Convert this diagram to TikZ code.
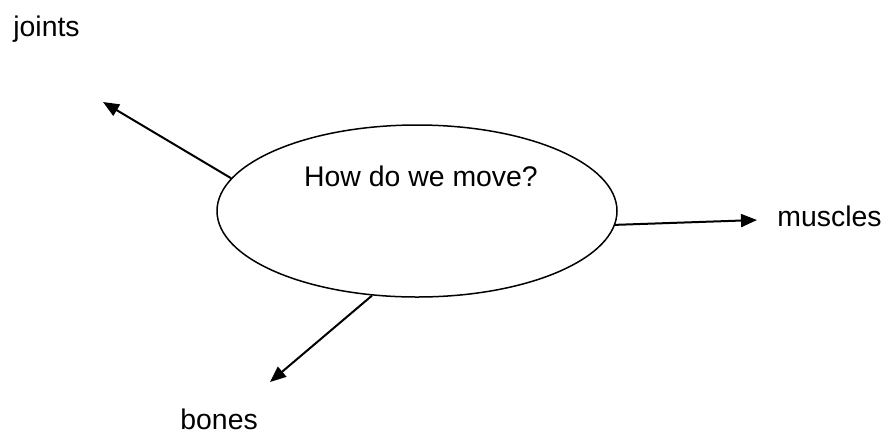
\documentclass[tikz,border=0pt]{standalone}
\usepackage{fontspec}
\setmainfont{Liberation Sans}
\usetikzlibrary{positioning,arrows.meta,shapes.geometric}

\begin{document}
\begin{tikzpicture}[x=0.5pt,y=-0.5pt,
    every node/.style={font=\fontsize{14.2}{17}\selectfont, inner sep=0pt},
    topic/.style={ellipse, draw, line width=0.75pt, minimum width=200pt, minimum height=86pt},
    link/.style={line width=1pt, -{Triangle[length=8pt,width=6.5pt]}}]
			\useasboundingbox (0,0) rectangle (887,435);

			\node (move) [topic] at (417,211) {};
			\node (q) [anchor=base] at (421,186) {How do we move?};

			\node (joints)  [anchor=base west] at (13,36)   {joints};
			\node (muscles) [anchor=base west] at (777,226) {muscles};
			\node (bones)   [anchor=base west] at (180,429) {bones};

			\coordinate (jtip) at (103,102);
			\coordinate (mtip) at (757,220);
			\coordinate (btip) at (270,382);

			\draw [link] (move.170.5) -- (jtip);
			\draw [link] (move.-4)    -- (mtip);
			\draw [link] (move.242.6) -- (btip);
		\end{tikzpicture}
\end{document}
